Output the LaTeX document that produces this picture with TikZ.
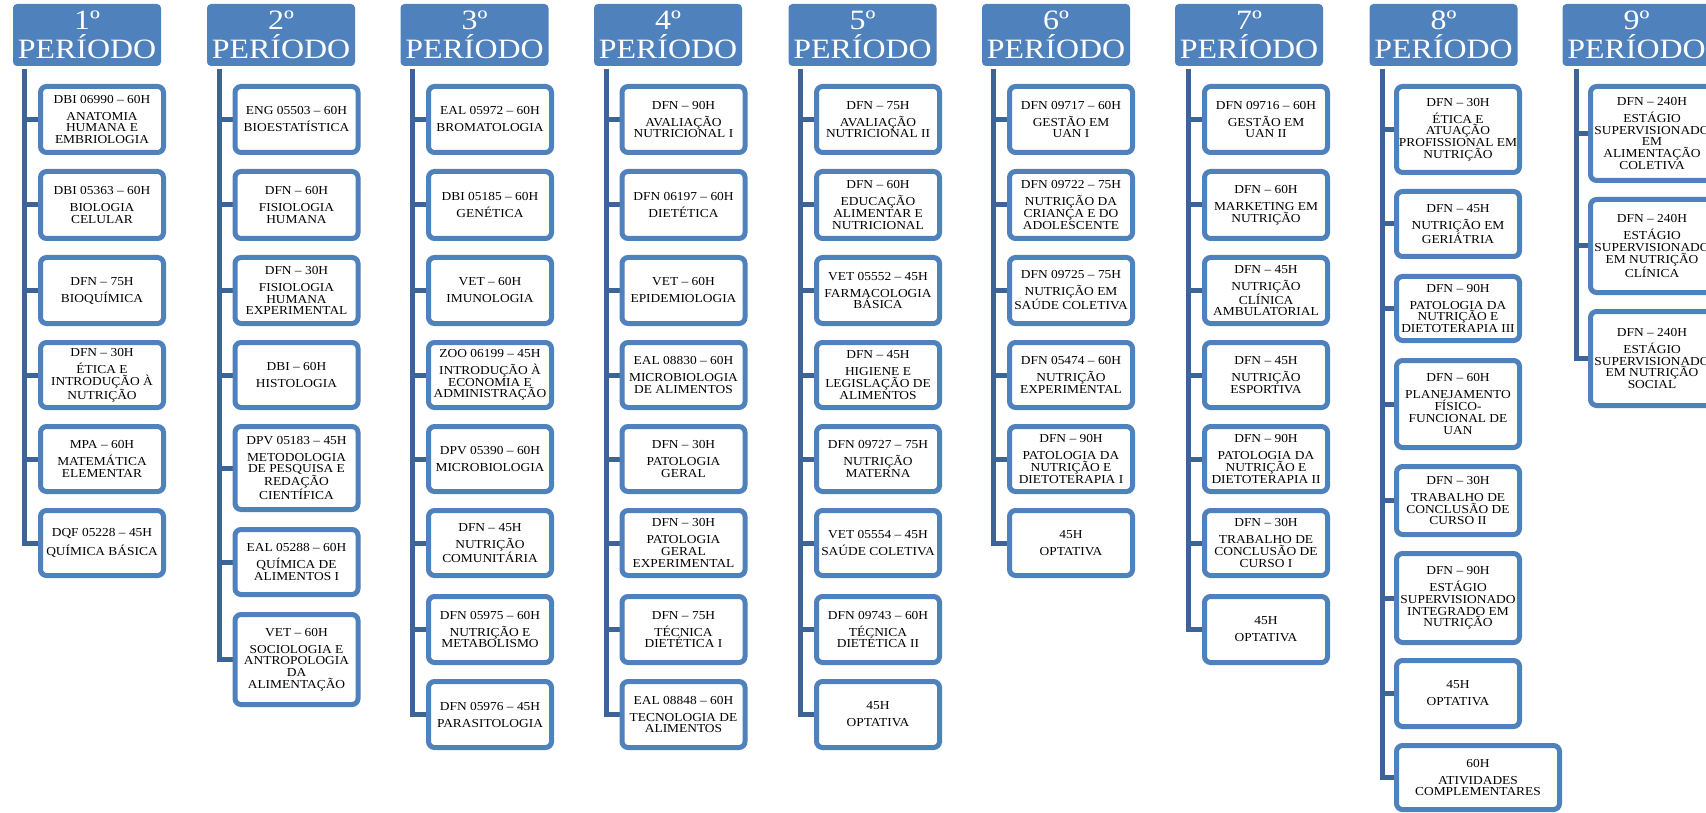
\documentclass[tikz,border=0pt]{standalone}
\usepackage{fontspec}
\usetikzlibrary{backgrounds}
\newfontfamily\boxfont[FakeStretch=1.1]{Liberation Serif}
\newfontfamily\hdrfont[FakeStretch=1.14]{Liberation Serif}
\definecolor{boxblue}{RGB}{79,129,189}
\definecolor{hdrblue}{RGB}{79,129,189}
\definecolor{barblue}{RGB}{61,100,150}
\tikzset{
  disc/.style={draw=boxblue, line width=5pt, rounded corners=6pt, fill=white,
    minimum width=123pt, inner sep=0pt, align=center,
    font=\boxfont\fontsize{12.2}{11.7}\selectfont},
  hdr/.style={fill=hdrblue, rounded corners=4pt, minimum width=148pt,
    minimum height=62pt, text=white, align=center, inner sep=0pt,
    font=\hdrfont\fontsize{28}{29}\selectfont},
  barline/.style={draw=barblue, line width=5pt, line join=miter},
}
\newcommand\discbox[6]{\node[disc, minimum height=#4pt-5pt] (#1) at (#2,#3) {#5\\[5.3pt]#6};}
\newcommand\hdrbox[3]{\node[hdr] (#1) at (#2,35) {#3};}
\begin{document}
\begin{tikzpicture}[x=1pt,y=-1pt]
\useasboundingbox (0,0) rectangle (1706,813);
% headers
\hdrbox{h1}{87}{1º\\PERÍODO}
\hdrbox{h2}{281}{2º\\PERÍODO}
\hdrbox{h3}{474.5}{3º\\PERÍODO}
\hdrbox{h4}{668}{4º\\PERÍODO}
\hdrbox{h5}{862.5}{5º\\PERÍODO}
\hdrbox{h6}{1056}{6º\\PERÍODO}
\hdrbox{h7}{1249}{7º\\PERÍODO}
\hdrbox{h8}{1443.5}{8º\\PERÍODO}
\hdrbox{h9}{1636.5}{9º\\PERÍODO}
% bar tops
\coordinate (t1) at (24,69);
\coordinate (t2) at (219,69);
\coordinate (t3) at (412,69);
\coordinate (t4) at (606,69);
\coordinate (t5) at (800,69);
\coordinate (t6) at (993,69);
\coordinate (t7) at (1188,69);
\coordinate (t8) at (1382,69);
\coordinate (t9) at (1576,69);
% column 1
\discbox{a1}{102}{119.5}{71}{DBI 06990 – 60H}{ANATOMIA\\HUMANA E\\EMBRIOLOGIA}
\discbox{a2}{102}{205}{72}{DBI 05363 – 60H}{BIOLOGIA\\CELULAR}
\discbox{a3}{102}{290.5}{71}{DFN – 75H}{BIOQUÍMICA}
\discbox{a4}{102}{375}{70}{DFN – 30H}{ÉTICA E\\INTRODUÇÃO À\\NUTRIÇÃO}
\discbox{a5}{102}{459}{70}{MPA – 60H}{MATEMÁTICA\\ELEMENTAR}
\discbox{a6}{102}{543}{70}{DQF 05228 – 45H}{QUÍMICA BÁSICA}
% column 2
\discbox{b1}{296.5}{119.5}{71}{ENG 05503 – 60H}{BIOESTATÍSTICA}
\discbox{b2}{296.5}{205}{72}{DFN – 60H}{FISIOLOGIA\\HUMANA}
\discbox{b3}{296.5}{290.5}{71}{DFN – 30H}{FISIOLOGIA\\HUMANA\\EXPERIMENTAL}
\discbox{b4}{296.5}{375}{70}{DBI – 60H}{HISTOLOGIA}
\discbox{b5}{296.5}{468}{88}{DPV 05183 – 45H}{METODOLOGIA\\DE PESQUISA E\\REDAÇÃO\\CIENTÍFICA}
\discbox{b6}{296.5}{562}{70}{EAL 05288 – 60H}{QUÍMICA DE\\ALIMENTOS I}
\discbox{b7}{296.5}{659.5}{95}{VET – 60H}{SOCIOLOGIA E\\ANTROPOLOGIA\\DA\\ALIMENTAÇÃO}
% column 3
\discbox{c1}{490}{119.5}{71}{EAL 05972 – 60H}{BROMATOLOGIA}
\discbox{c2}{490}{205}{72}{DBI 05185 – 60H}{GENÉTICA}
\discbox{c3}{490}{290.5}{71}{VET – 60H}{IMUNOLOGIA}
\discbox{c4}{490}{375}{70}{ZOO 06199 – 45H}{INTRODUÇÃO À\\ECONOMIA E\\ADMINISTRAÇÃO}
\discbox{c5}{490}{459}{70}{DPV 05390 – 60H}{MICROBIOLOGIA}
\discbox{c6}{490}{543}{70}{DFN – 45H}{NUTRIÇÃO\\COMUNITÁRIA}
\discbox{c7}{490}{629.5}{71}{DFN 05975 – 60H}{NUTRIÇÃO E\\METABOLISMO}
\discbox{c8}{490}{714.5}{71}{DFN 05976 – 45H}{PARASITOLOGIA}
% column 4
\discbox{d1}{683.5}{119.5}{71}{DFN – 90H}{AVALIAÇÃO\\NUTRICIONAL I}
\discbox{d2}{683.5}{205}{72}{DFN 06197 – 60H}{DIETÉTICA}
\discbox{d3}{683.5}{290.5}{71}{VET – 60H}{EPIDEMIOLOGIA}
\discbox{d4}{683.5}{375}{70}{EAL 08830 – 60H}{MICROBIOLOGIA\\DE ALIMENTOS}
\discbox{d5}{683.5}{459}{70}{DFN – 30H}{PATOLOGIA\\GERAL}
\discbox{d6}{683.5}{543}{70}{DFN – 30H}{PATOLOGIA\\GERAL\\EXPERIMENTAL}
\discbox{d7}{683.5}{629.5}{71}{DFN – 75H}{TÉCNICA\\DIETÉTICA I}
\discbox{d8}{683.5}{714.5}{71}{EAL 08848 – 60H}{TECNOLOGIA DE\\ALIMENTOS}
% column 5
\discbox{e1}{878}{119.5}{71}{DFN – 75H}{AVALIAÇÃO\\NUTRICIONAL II}
\discbox{e2}{878}{205}{72}{DFN – 60H}{EDUCAÇÃO\\ALIMENTAR E\\NUTRICIONAL}
\discbox{e3}{878}{290.5}{71}{VET 05552 – 45H}{FARMACOLOGIA\\BÁSICA}
\discbox{e4}{878}{375}{70}{DFN – 45H}{HIGIENE E\\LEGISLAÇÃO DE\\ALIMENTOS}
\discbox{e5}{878}{459}{70}{DFN 09727 – 75H}{NUTRIÇÃO\\MATERNA}
\discbox{e6}{878}{543}{70}{VET 05554 – 45H}{SAÚDE COLETIVA}
\discbox{e7}{878}{629.5}{71}{DFN 09743 – 60H}{TÉCNICA\\DIETÉTICA II}
\discbox{e8}{878}{714.5}{71}{45H}{OPTATIVA}
% column 6
\discbox{f1}{1071}{119.5}{71}{DFN 09717 – 60H}{GESTÃO EM\\UAN I}
\discbox{f2}{1071}{205}{72}{DFN 09722 – 75H}{NUTRIÇÃO DA\\CRIANÇA E DO\\ADOLESCENTE}
\discbox{f3}{1071}{290.5}{71}{DFN 09725 – 75H}{NUTRIÇÃO EM\\SAÚDE COLETIVA}
\discbox{f4}{1071}{375}{70}{DFN 05474 – 60H}{NUTRIÇÃO\\EXPERIMENTAL}
\discbox{f5}{1071}{459}{70}{DFN – 90H}{PATOLOGIA DA\\NUTRIÇÃO E\\DIETOTERAPIA I}
\discbox{f6}{1071}{543}{70}{45H}{OPTATIVA}
% column 7
\discbox{g1}{1266}{119.5}{71}{DFN 09716 – 60H}{GESTÃO EM\\UAN II}
\discbox{g2}{1266}{205}{72}{DFN – 60H}{MARKETING EM\\NUTRIÇÃO}
\discbox{g3}{1266}{290.5}{71}{DFN – 45H}{NUTRIÇÃO\\CLÍNICA\\AMBULATORIAL}
\discbox{g4}{1266}{375}{70}{DFN – 45H}{NUTRIÇÃO\\ESPORTIVA}
\discbox{g5}{1266}{459}{70}{DFN – 90H}{PATOLOGIA DA\\NUTRIÇÃO E\\DIETOTERAPIA II}
\discbox{g6}{1266}{543}{70}{DFN – 30H}{TRABALHO DE\\CONCLUSÃO DE\\CURSO I}
\discbox{g7}{1266}{629.5}{71}{45H}{OPTATIVA}
% column 8
\discbox{k1}{1458}{129.5}{91}{DFN – 30H}{ÉTICA E\\ATUAÇÃO\\PROFISSIONAL EM\\NUTRIÇÃO}
\discbox{k2}{1458}{224}{70}{DFN – 45H}{NUTRIÇÃO EM\\GERIÁTRIA}
\discbox{k3}{1458}{308.5}{69}{DFN – 90H}{PATOLOGIA DA\\NUTRIÇÃO E\\DIETOTERAPIA III}
\discbox{k4}{1458}{404}{92}{DFN – 60H}{PLANEJAMENTO\\FÍSICO-\\FUNCIONAL DE\\UAN}
\discbox{k5}{1458}{500.5}{73}{DFN – 30H}{TRABALHO DE\\CONCLUSÃO DE\\CURSO II}
\discbox{k6}{1458}{598}{94}{DFN – 90H}{ESTÁGIO\\SUPERVISIONADO\\INTEGRADO EM\\NUTRIÇÃO}
\discbox{k7}{1458}{693.5}{71}{45H}{OPTATIVA}
\node[disc, minimum height=64pt, minimum width=163pt] (k8) at (1478,777.5) {60H\\[5.3pt]ATIVIDADES\\COMPLEMENTARES};
% column 9
\discbox{m1}{1652}{133.5}{99}{DFN – 240H}{ESTÁGIO\\SUPERVISIONADO\\EM\\ALIMENTAÇÃO\\COLETIVA}
\discbox{m2}{1652}{246}{98}{DFN – 240H}{ESTÁGIO\\SUPERVISIONADO\\EM NUTRIÇÃO\\CLÍNICA}
\discbox{m3}{1652}{358.5}{99}{DFN – 240H}{ESTÁGIO\\SUPERVISIONADO\\EM NUTRIÇÃO\\SOCIAL}
% connectors
\begin{pgfonlayer}{background}
\draw[barline] (t1) -- (t1 |- a6.west) -- (a6.west);
\foreach \n in {a1,a2,a3,a4,a5} \draw[barline] (t1 |- \n.west) -- (\n.west);
\draw[barline] (t2) -- (t2 |- b7.west) -- (b7.west);
\foreach \n in {b1,b2,b3,b4,b5,b6} \draw[barline] (t2 |- \n.west) -- (\n.west);
\draw[barline] (t3) -- (t3 |- c8.west) -- (c8.west);
\foreach \n in {c1,c2,c3,c4,c5,c6,c7} \draw[barline] (t3 |- \n.west) -- (\n.west);
\draw[barline] (t4) -- (t4 |- d8.west) -- (d8.west);
\foreach \n in {d1,d2,d3,d4,d5,d6,d7} \draw[barline] (t4 |- \n.west) -- (\n.west);
\draw[barline] (t5) -- (t5 |- e8.west) -- (e8.west);
\foreach \n in {e1,e2,e3,e4,e5,e6,e7} \draw[barline] (t5 |- \n.west) -- (\n.west);
\draw[barline] (t6) -- (t6 |- f6.west) -- (f6.west);
\foreach \n in {f1,f2,f3,f4,f5} \draw[barline] (t6 |- \n.west) -- (\n.west);
\draw[barline] (t7) -- (t7 |- g7.west) -- (g7.west);
\foreach \n in {g1,g2,g3,g4,g5,g6} \draw[barline] (t7 |- \n.west) -- (\n.west);
\draw[barline] (t8) -- (t8 |- k8.west) -- (k8.west);
\foreach \n in {k1,k2,k3,k4,k5,k6,k7} \draw[barline] (t8 |- \n.west) -- (\n.west);
\draw[barline] (t9) -- (t9 |- m3.west) -- (m3.west);
\foreach \n in {m1,m2} \draw[barline] (t9 |- \n.west) -- (\n.west);
\end{pgfonlayer}
\end{tikzpicture}
\end{document}
